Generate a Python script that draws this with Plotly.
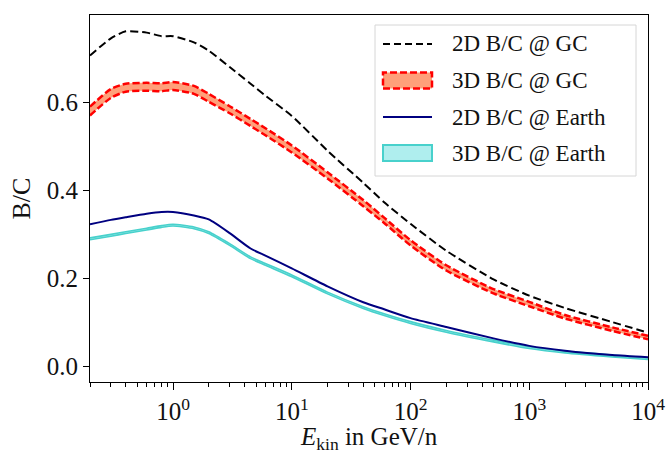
import plotly.graph_objects as go

# Kinetic energy per nucleon (GeV/n)
energy = [0.2, 0.3, 0.4, 0.6, 0.8, 1, 1.5, 2, 3, 4.5, 6, 10, 20, 40, 60,
          100, 200, 500, 1000, 2000, 5000, 10000]

# 2D model, Galactic Centre
bc_2d_gc = [0.706, 0.745, 0.761, 0.758, 0.750, 0.750, 0.736, 0.717, 0.680,
            0.642, 0.615, 0.569, 0.490, 0.417, 0.373, 0.324, 0.263, 0.198,
            0.161, 0.133, 0.101, 0.077]

# 3D model, Galactic Centre (band)
bc_3d_gc_hi = [0.590, 0.630, 0.642, 0.644, 0.643, 0.646, 0.637, 0.619, 0.591,
               0.562, 0.541, 0.502, 0.441, 0.378, 0.338, 0.287, 0.230, 0.176,
               0.147, 0.117, 0.089, 0.070]
bc_3d_gc_lo = [0.570, 0.610, 0.624, 0.626, 0.625, 0.628, 0.619, 0.601, 0.575,
               0.546, 0.525, 0.486, 0.427, 0.364, 0.326, 0.275, 0.218, 0.166,
               0.137, 0.109, 0.081, 0.062]

# 2D model, Earth
bc_2d_earth = [0.323, 0.333, 0.339, 0.347, 0.351, 0.351, 0.343, 0.334, 0.303,
               0.268, 0.252, 0.223, 0.182, 0.146, 0.130, 0.110, 0.090, 0.064,
               0.047, 0.036, 0.026, 0.021]

# 3D model, Earth (band)
bc_3d_earth_hi = [0.292, 0.300, 0.306, 0.314, 0.320, 0.323, 0.317, 0.306,
                  0.279, 0.249, 0.234, 0.208, 0.169, 0.136, 0.120, 0.102,
                  0.082, 0.060, 0.045, 0.035, 0.026, 0.020]
bc_3d_earth_lo = [0.288, 0.296, 0.302, 0.310, 0.316, 0.319, 0.313, 0.302,
                  0.275, 0.245, 0.230, 0.204, 0.165, 0.132, 0.116, 0.098,
                  0.078, 0.056, 0.041, 0.031, 0.022, 0.016]

x_major = [1, 10, 100, 1000, 10000]
x_major_text = ["10<sup>0</sup>", "10<sup>1</sup>", "10<sup>2</sup>",
                "10<sup>3</sup>", "10<sup>4</sup>"]
x_minor = [m * 10 ** d for d in range(-1, 4) for m in range(2, 10)]
y_ticks = [0.0, 0.2, 0.4, 0.6]
y_tick_text = ["0.0", "0.2", "0.4", "0.6"]

legend_labels = ["2D B/C @ GC", "3D B/C @ GC", "2D B/C @ Earth",
                 "3D B/C @ Earth"]
x_title = "<i>E</i><sub>kin</sub> in GeV/n"

BLACK = "#000000"
RED = "#ff0000"
SALMON = "#ffa07a"
NAVY = "#000080"
TURQ = "#48d1cc"
PALE_TURQ = "#afeeee"
FONT = "Liberation Serif"

W, H = 666, 453
ML, MR, MT, MB = 90, 18, 15, 71
PW, PH = W - ML - MR, H - MT - MB

fig = go.Figure()
spline = dict(shape="spline", smoothing=0.6)

fig.add_trace(go.Scatter(x=energy, y=bc_2d_gc, mode="lines",
                         line=dict(color=BLACK, width=2, dash="8px,4px", **spline),
                         showlegend=False))

fig.add_trace(go.Scatter(x=energy, y=bc_3d_gc_lo, mode="lines",
                         line=dict(color=RED, width=2.5, dash="7px,3px", **spline),
                         showlegend=False))
fig.add_trace(go.Scatter(x=energy, y=bc_3d_gc_hi, mode="lines", fill="tonexty",
                         fillcolor=SALMON,
                         line=dict(color=RED, width=2.5, dash="7px,3px", **spline),
                         showlegend=False))

fig.add_trace(go.Scatter(x=energy, y=bc_3d_earth_lo, mode="lines",
                         line=dict(color=TURQ, width=1.6, **spline),
                         showlegend=False))
fig.add_trace(go.Scatter(x=energy, y=bc_3d_earth_hi, mode="lines", fill="tonexty",
                         fillcolor=PALE_TURQ,
                         line=dict(color=TURQ, width=1.6, **spline),
                         showlegend=False))

fig.add_trace(go.Scatter(x=energy, y=bc_2d_earth, mode="lines",
                         line=dict(color=NAVY, width=2, **spline),
                         showlegend=False))


def px(x):
    return (x - ML) / PW


def py(y):
    return (H - MB - y) / PH


# Legend frame and entries
shapes = [dict(type="rect", xref="paper", yref="paper",
               x0=px(375), x1=px(636), y0=py(176), y1=py(25),
               line=dict(color="#d6d6d6", width=1),
               fillcolor="rgba(255,255,255,0.85)", layer="above")]
hx0, hx1 = px(383), px(432)
rows = [44, 80.5, 117, 153]
shapes.append(dict(type="line", xref="paper", yref="paper", x0=hx0, x1=hx1,
                   y0=py(rows[0]), y1=py(rows[0]),
                   line=dict(color=BLACK, width=2, dash="7px,4px"), layer="above"))
shapes.append(dict(type="rect", xref="paper", yref="paper", x0=hx0, x1=hx1,
                   y0=py(rows[1] + 8), y1=py(rows[1] - 8), fillcolor=SALMON,
                   line=dict(color=RED, width=2.5, dash="7px,3px"), layer="above"))
shapes.append(dict(type="line", xref="paper", yref="paper", x0=hx0, x1=hx1,
                   y0=py(rows[2]), y1=py(rows[2]),
                   line=dict(color=NAVY, width=2), layer="above"))
shapes.append(dict(type="rect", xref="paper", yref="paper", x0=hx0, x1=hx1,
                   y0=py(rows[3] + 8), y1=py(rows[3] - 8), fillcolor=PALE_TURQ,
                   line=dict(color=TURQ, width=2), layer="above"))

annotations = [dict(x=px(450), y=py(r), xref="paper", yref="paper",
                    text=t, showarrow=False, xanchor="left", yanchor="middle",
                    font=dict(family=FONT, size=23, color="#111"))
               for r, t in zip(rows, legend_labels)]

# x-axis title placed below the tick labels
annotations.append(dict(x=0.5, y=py(438.5), xref="paper", yref="paper",
                        text=x_title, showarrow=False, xanchor="center",
                        yanchor="middle",
                        font=dict(family=FONT, size=25, color="#111")))

fig.update_layout(
    width=W, height=H,
    margin=dict(l=ML, r=MR, t=MT, b=MB),
    paper_bgcolor="white", plot_bgcolor="white",
    font=dict(family=FONT, size=25, color="#111"),
    shapes=shapes, annotations=annotations,
    xaxis=dict(type="log", range=[-0.699, 4.0], automargin=False,
               tickmode="array", tickvals=x_major, ticktext=x_major_text,
               ticks="outside", ticklen=7, tickwidth=1.2, tickcolor="black",
               showline=True, linecolor="black", linewidth=1.2, mirror=True,
               showgrid=False, zeroline=False,
               tickfont=dict(family=FONT, size=25),
               minor=dict(tickmode="array", tickvals=x_minor, ticks="outside",
                          ticklen=4, tickwidth=1, tickcolor="black",
                          showgrid=False)),
    yaxis=dict(range=[-0.035, 0.798], automargin=False,
               tickmode="array", tickvals=y_ticks, ticktext=y_tick_text,
               ticks="outside", ticklen=6, tickwidth=1.2, tickcolor="black",
               showline=True, linecolor="black", linewidth=1.2, mirror=True,
               showgrid=False, zeroline=False,
               tickfont=dict(family=FONT, size=25),
               title=dict(text="B/C", font=dict(family=FONT, size=26),
                          standoff=8)),
)

fig.write_html("out.html", config={"displayModeBar": False})
